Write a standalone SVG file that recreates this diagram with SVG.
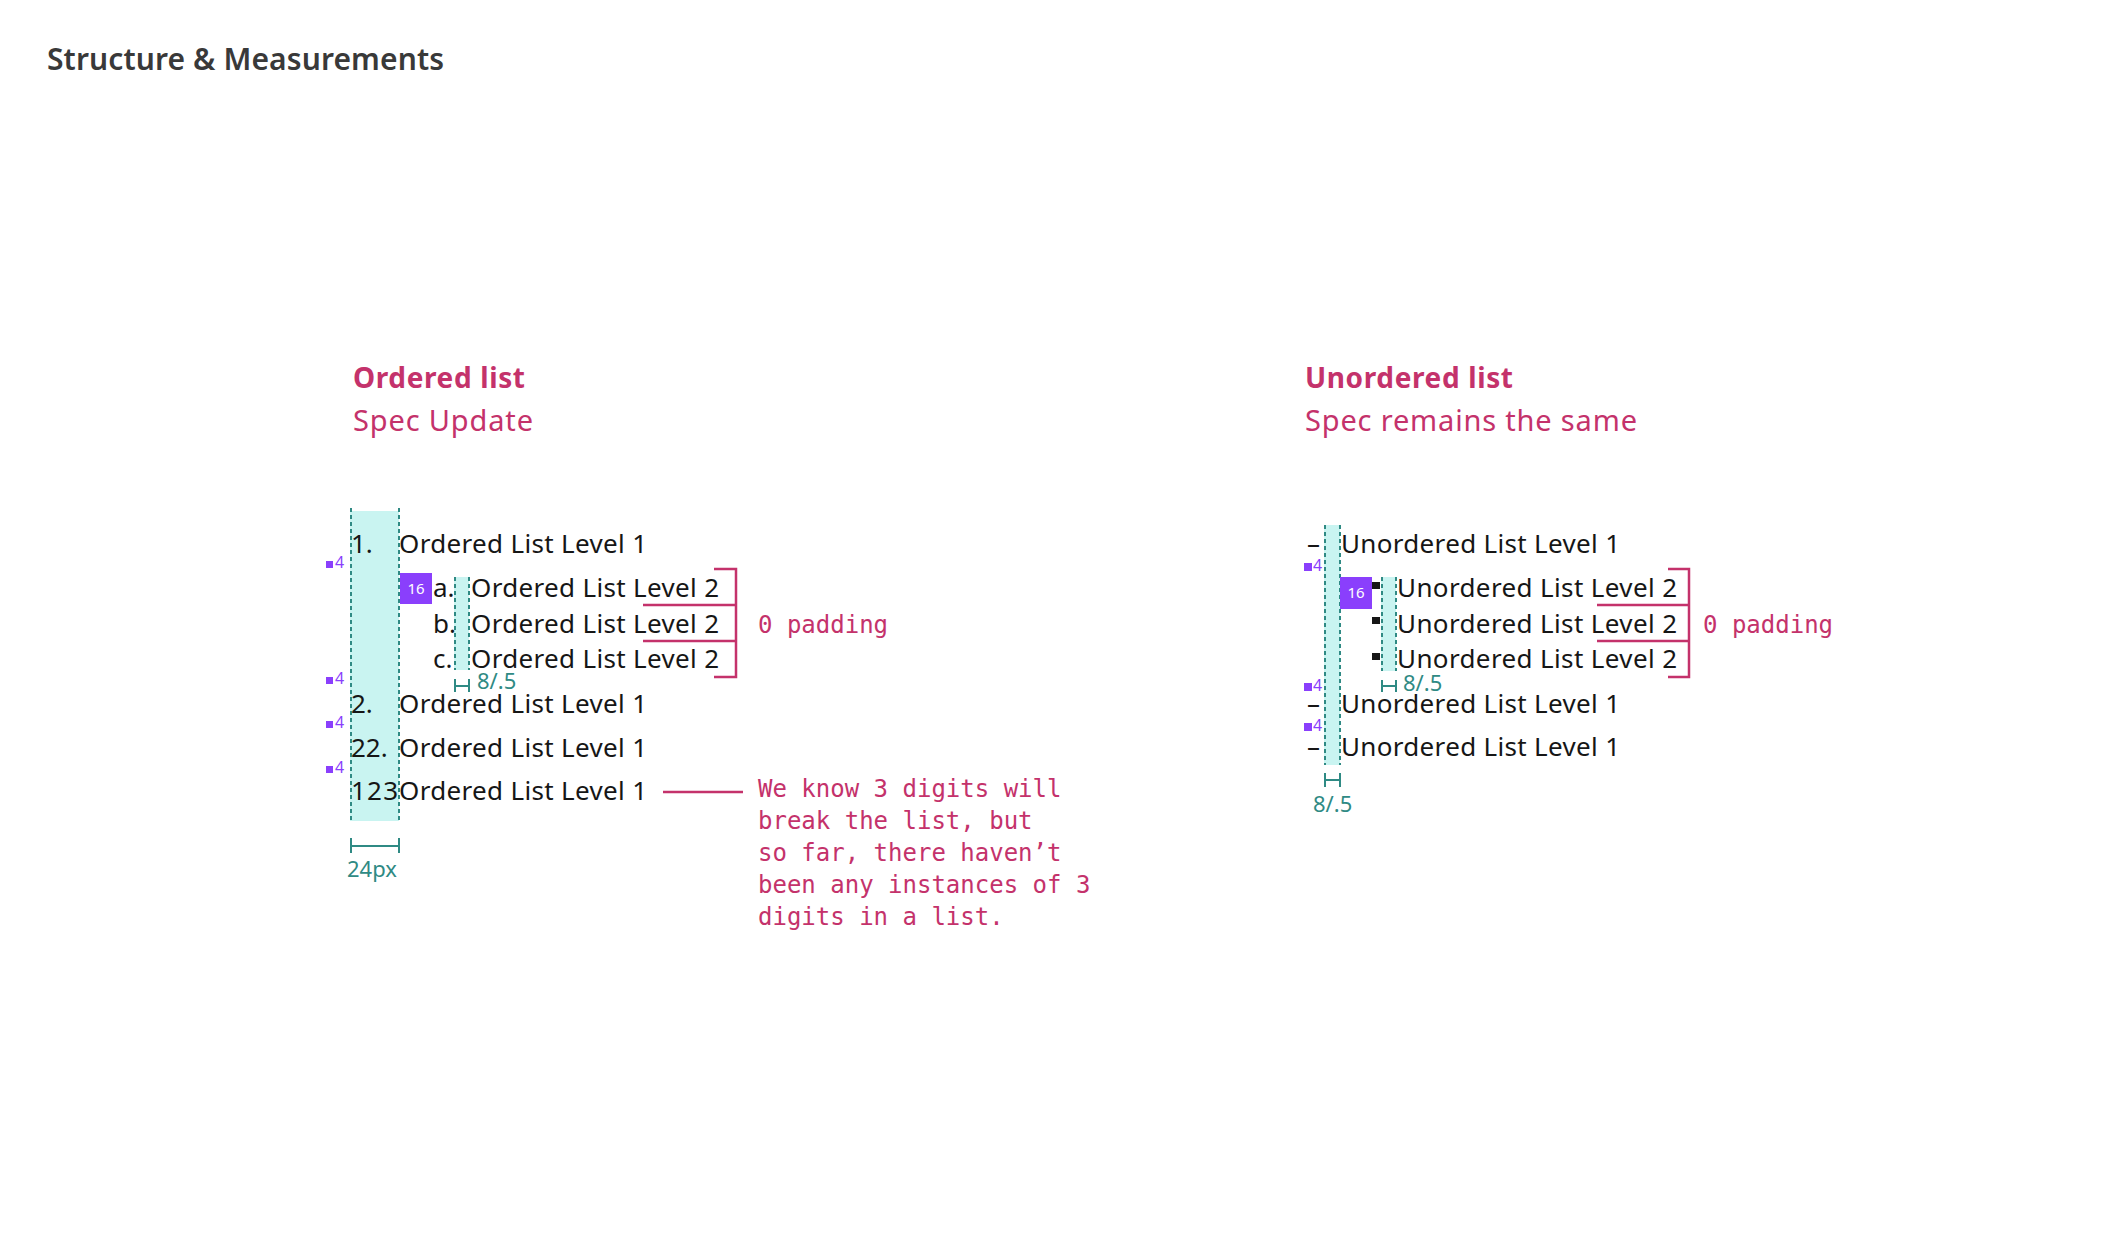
<svg xmlns="http://www.w3.org/2000/svg" width="2102" height="1240" viewBox="0 0 2102 1240">
<style>
.title{font-family:"Noto Sans","Liberation Sans",sans-serif;font-size:30px;font-weight:600;fill:#393939}
.h{font-family:"Noto Sans","Liberation Sans",sans-serif;font-size:28px;font-weight:700;fill:#c4326b}
.sub{font-family:"Noto Sans","Liberation Sans",sans-serif;font-size:29px;fill:#c4326b}
.t{font-family:"Noto Sans","Liberation Sans",sans-serif;font-size:26px;fill:#161616}
.mono{font-family:"DejaVu Sans Mono","Liberation Mono",monospace;font-size:24px;fill:#c4326b}
.meas{font-family:"Noto Sans","Liberation Sans",sans-serif;font-size:22px;fill:#2f8a84}
.sp{font-family:"Noto Sans","Liberation Sans",sans-serif;font-size:16px;fill:#8a3ffc}
.box16{font-family:"Noto Sans","Liberation Sans",sans-serif;font-size:15px;fill:#ffffff;text-anchor:middle}
.fill{fill:#c9f4f1}
.dash{stroke:#2f8a84;stroke-width:2;stroke-dasharray:4 3;fill:none}
.mline{stroke:#2f8a84;stroke-width:2;fill:none}
.red{stroke:#c4326b;stroke-width:2.5;fill:none}
.pur{fill:#8a3ffc}
</style>
<rect width="2102" height="1240" fill="#ffffff"/>
<text class="title" x="47" y="70" textLength="397">Structure &amp; Measurements</text>

<g id="ordered-list">
  <text class="h" x="353" y="388" textLength="172">Ordered list</text>
  <text class="sub" x="353" y="431" textLength="180">Spec Update</text>
  <g id="ol-guides">
    <rect class="fill" x="350" y="511" width="49" height="310"/>
    <line class="dash" x1="351" y1="508" x2="351" y2="823"/>
    <line class="dash" x1="399" y1="508" x2="399" y2="823"/>
    <rect class="fill" x="454" y="577" width="15" height="93"/>
    <line class="dash" x1="455" y1="577" x2="455" y2="670"/>
    <line class="dash" x1="469" y1="577" x2="469" y2="670"/>
  </g>
  <g id="ol-items">
    <text class="t" x="351" y="553">1.</text>
    <text class="t" x="399" y="553" textLength="248">Ordered List Level 1</text>
    <text class="t" x="433" y="597">a.</text>
    <text class="t" x="471" y="597" textLength="248">Ordered List Level 2</text>
    <text class="t" x="433" y="633">b.</text>
    <text class="t" x="471" y="633" textLength="248">Ordered List Level 2</text>
    <text class="t" x="433" y="668">c.</text>
    <text class="t" x="471" y="668" textLength="248">Ordered List Level 2</text>
    <text class="t" x="351" y="713">2.</text>
    <text class="t" x="399" y="713" textLength="248">Ordered List Level 1</text>
    <text class="t" x="351" y="757">22.</text>
    <text class="t" x="399" y="757" textLength="248">Ordered List Level 1</text>
    <text class="t" x="351" y="800" textLength="47">123</text>
    <text class="t" x="399" y="800" textLength="248">Ordered List Level 1</text>
  </g>
  <g id="ol-spacing">
    <rect class="pur" x="400" y="573" width="32" height="31"/>
    <text class="box16" x="416" y="594">16</text>
    <rect class="pur" x="326" y="561" width="7" height="7"/><text class="sp" x="335" y="568">4</text>
    <rect class="pur" x="326" y="677" width="7" height="7"/><text class="sp" x="335" y="684">4</text>
    <rect class="pur" x="326" y="721" width="7" height="7"/><text class="sp" x="335" y="728">4</text>
    <rect class="pur" x="326" y="766" width="7" height="7"/><text class="sp" x="335" y="773">4</text>
  </g>
  <g id="ol-measures">
    <path class="mline" d="M455 679V692M469 679V692M455 686H469"/>
    <text class="meas" x="477" y="689">8/.5</text>
    <path class="mline" d="M351 838V853M399 838V853M351 846H399"/>
    <text class="meas" x="347" y="877" font-size="23">24px</text>
  </g>
  <g id="ol-bracket">
    <path class="red" d="M714 569H736V677H714"/>
    <path class="red" d="M643 605H736M643 641H736"/>
    <text class="mono" x="758" y="633">0 padding</text>
  </g>
  <g id="ol-note">
    <text class="mono" x="758" y="797">We know 3 digits will</text>
    <text class="mono" x="758" y="829">break the list, but</text>
    <text class="mono" x="758" y="861">so far, there haven’t</text>
    <text class="mono" x="758" y="893">been any instances of 3</text>
    <text class="mono" x="758" y="925">digits in a list.</text>
  </g>
</g>

<g id="unordered-list">
  <text class="h" x="1305" y="388" textLength="208">Unordered list</text>
  <text class="sub" x="1305" y="431" textLength="332">Spec remains the same</text>
  <g id="ul-guides">
    <rect class="fill" x="1324" y="525" width="16" height="240"/>
    <line class="dash" x1="1325" y1="525" x2="1325" y2="765"/>
    <line class="dash" x1="1340" y1="525" x2="1340" y2="765"/>
    <rect class="fill" x="1381" y="577" width="15" height="94"/>
    <line class="dash" x1="1382" y1="577" x2="1382" y2="671"/>
    <line class="dash" x1="1396" y1="577" x2="1396" y2="671"/>
  </g>
  <g id="ul-items">
    <text class="t" x="1307" y="553" textLength="15">–</text>
    <text class="t" x="1341" y="553" textLength="279">Unordered List Level 1</text>
    <rect x="1372" y="582" width="8" height="7" fill="#161616"/>
    <text class="t" x="1397" y="597" textLength="280">Unordered List Level 2</text>
    <rect x="1372" y="617" width="8" height="7" fill="#161616"/>
    <text class="t" x="1397" y="633" textLength="280">Unordered List Level 2</text>
    <rect x="1372" y="653" width="8" height="7" fill="#161616"/>
    <text class="t" x="1397" y="668" textLength="280">Unordered List Level 2</text>
    <text class="t" x="1307" y="713" textLength="15">–</text>
    <text class="t" x="1341" y="713" textLength="279">Unordered List Level 1</text>
    <text class="t" x="1307" y="756" textLength="15">–</text>
    <text class="t" x="1341" y="756" textLength="279">Unordered List Level 1</text>
  </g>
  <g id="ul-spacing">
    <rect class="pur" x="1340" y="577" width="32" height="32"/>
    <text class="box16" x="1356" y="598">16</text>
    <rect class="pur" x="1304" y="563" width="8" height="8"/><text class="sp" x="1313" y="571">4</text>
    <rect class="pur" x="1304" y="683" width="8" height="8"/><text class="sp" x="1313" y="691">4</text>
    <rect class="pur" x="1304" y="723" width="8" height="8"/><text class="sp" x="1313" y="731">4</text>
  </g>
  <g id="ul-measures">
    <path class="mline" d="M1382 680V692M1396 680V692M1382 686H1396"/>
    <text class="meas" x="1403" y="691">8/.5</text>
    <path class="mline" d="M1325 773V787M1340 773V787M1325 780H1340"/>
    <text class="meas" x="1313" y="812">8/.5</text>
  </g>
  <g id="ul-bracket">
    <path class="red" d="M1668 569H1689V677H1668"/>
    <path class="red" d="M1597 605H1689M1597 641H1689"/>
    <text class="mono" x="1703" y="633">0 padding</text>
  </g>
</g>

<g id="connectors">
  <line class="red" x1="663" y1="792" x2="743" y2="792"/>
</g>
</svg>
